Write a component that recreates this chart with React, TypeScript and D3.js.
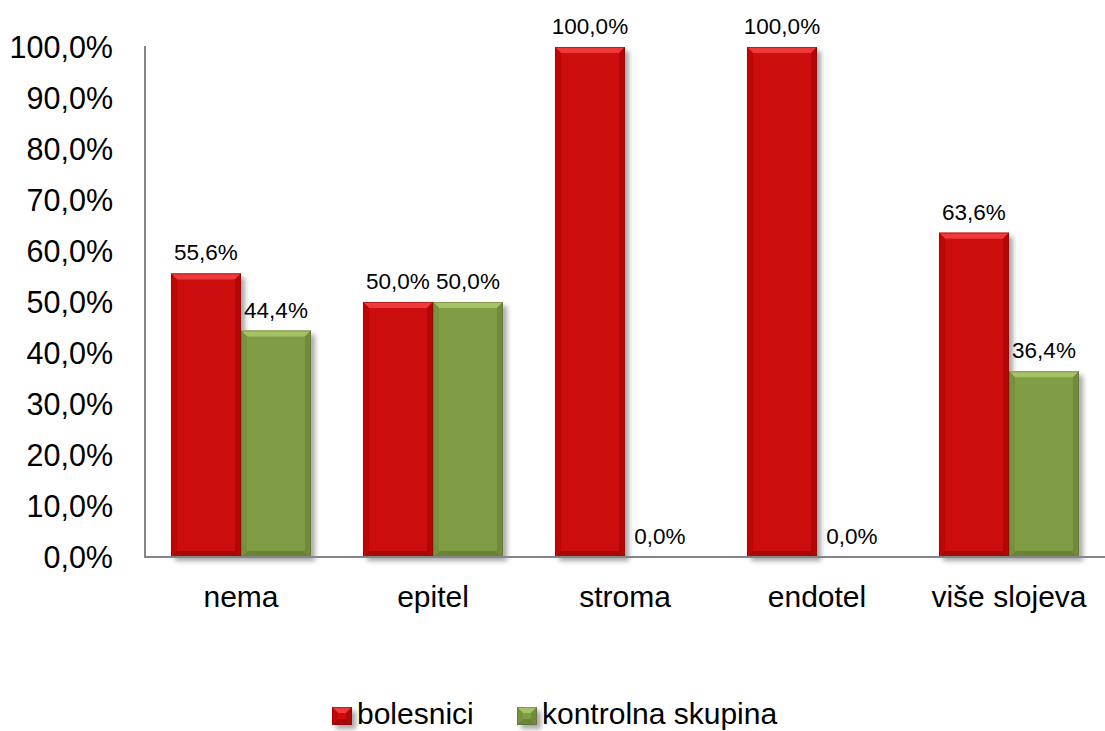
import React from "react";
import * as d3 from "d3";

const categories = ["nema", "epitel", "stroma", "endotel", "više slojeva"];
const seriesNames = ["bolesnici", "kontrolna skupina"];
const bolesnici = [55.6, 50.0, 100.0, 100.0, 63.6];
const kontrolna = [44.4, 50.0, 0.0, 0.0, 36.4];
const yTicks = [0, 10, 20, 30, 40, 50, 60, 70, 80, 90, 100];

const W = 1105;
const H = 731;
const margin = { left: 145, right: 0, top: 47, bottom: 174 };
const FONT = "'Liberation Sans', Arial, sans-serif";

const palettes = [
  { base: "#CC0808", top: "#EE3A3A", bottom: "#A80707", left: "#BC0707", right: "#B40606", edge: "#8A0000" },
  { base: "#809D45", top: "#A6C266", bottom: "#6A8436", left: "#76923F", right: "#708B3A", edge: "#56692B" },
];

const fmt = (v: number) => d3.format(".1f")(v).replace(".", ",") + "%";

function Bar({ x, y, w, h, p }: { x: number; y: number; w: number; h: number; p: any }) {
  if (h <= 0) return null;
  const b = Math.min(6, h / 2);
  return (
    <g>
      <rect x={x} y={y} width={w} height={h} fill={p.base} filter="url(#shadow)" />
      <polygon points={`${x},${y} ${x + w},${y} ${x + w - b},${y + b} ${x + b},${y + b}`} fill={p.top} />
      <polygon points={`${x},${y + h} ${x + w},${y + h} ${x + w - b},${y + h - b} ${x + b},${y + h - b}`} fill={p.bottom} />
      <polygon points={`${x},${y} ${x + b},${y + b} ${x + b},${y + h - b} ${x},${y + h}`} fill={p.left} />
      <polygon points={`${x + w},${y} ${x + w - b},${y + b} ${x + w - b},${y + h - b} ${x + w},${y + h}`} fill={p.right} />
      <rect x={x + 0.5} y={y + 0.5} width={w - 1} height={h - 1} fill="none" stroke={p.edge} strokeWidth={1} strokeOpacity={0.45} />
    </g>
  );
}

export default function App() {
  const x0 = d3
    .scaleBand<string>()
    .domain(categories)
    .range([margin.left, W - margin.right])
    .paddingInner(0.2708)
    .paddingOuter(0.1354);
  const x1 = d3.scaleBand<number>().domain([0, 1]).range([0, x0.bandwidth()]).padding(0);
  const y = d3.scaleLinear().domain([0, 100]).range([H - margin.bottom, margin.top]);
  const series = [bolesnici, kontrolna];
  const y0 = y(0);

  const legendFont = 30;
  const sq = 20;
  const legendItems = [
    { name: seriesNames[0], x: 332 },
    { name: seriesNames[1], x: 517 },
  ];

  return (
    <svg width={W} height={H} style={{ position: "absolute", left: 0, top: 0, background: "#fff" }} fontFamily={FONT}>
      <defs>
        <filter id="shadow" x="-20%" y="-20%" width="150%" height="150%">
          <feGaussianBlur in="SourceAlpha" stdDeviation="2.5" />
          <feOffset dx="4" dy="4" result="ob" />
          <feComponentTransfer>
            <feFuncA type="linear" slope="0.35" />
          </feComponentTransfer>
          <feMerge>
            <feMergeNode />
            <feMergeNode in="SourceGraphic" />
          </feMerge>
        </filter>
      </defs>

      {categories.map((c, i) => (
        <g key={c}>
          {series.map((s, si) => {
            const bx = (x0(c) as number) + (x1(si) as number);
            const by = y(s[i]);
            return <Bar key={si} x={bx} y={by} w={x1.bandwidth()} h={y0 - by} p={palettes[si]} />;
          })}
        </g>
      ))}

      <line x1={margin.left} x2={margin.left} y1={margin.top - 1} y2={y0 + 1} stroke="#868686" strokeWidth={2} />
      <line x1={margin.left - 1} x2={W - margin.right} y1={y0} y2={y0} stroke="#868686" strokeWidth={2} />

      {yTicks.map((t) => (
        <text key={t} x={113} y={y(t)} dy="0.35em" textAnchor="end" fontSize={30.5} fill="#000">
          {fmt(t)}
        </text>
      ))}

      {categories.map((c) => (
        <text key={c} x={(x0(c) as number) + x0.bandwidth() / 2} y={607} textAnchor="middle" fontSize={30} fill="#000">
          {c}
        </text>
      ))}

      {categories.map((c, i) =>
        series.map((s, si) => (
          <text
            key={c + si}
            x={(x0(c) as number) + (x1(si) as number) + x1.bandwidth() / 2}
            y={y(s[i]) - 13}
            textAnchor="middle"
            fontSize={22.5}
            fill="#000"
          >
            {fmt(s[i])}
          </text>
        ))
      )}

      {legendItems.map((it, i) => (
        <g key={it.name}>
          <Bar x={it.x} y={707} w={sq} h={sq - 2} p={palettes[i]} />
          <text x={it.x + sq + 5} y={724} fontSize={legendFont} fill="#000">
            {it.name}
          </text>
        </g>
      ))}
    </svg>
  );
}
